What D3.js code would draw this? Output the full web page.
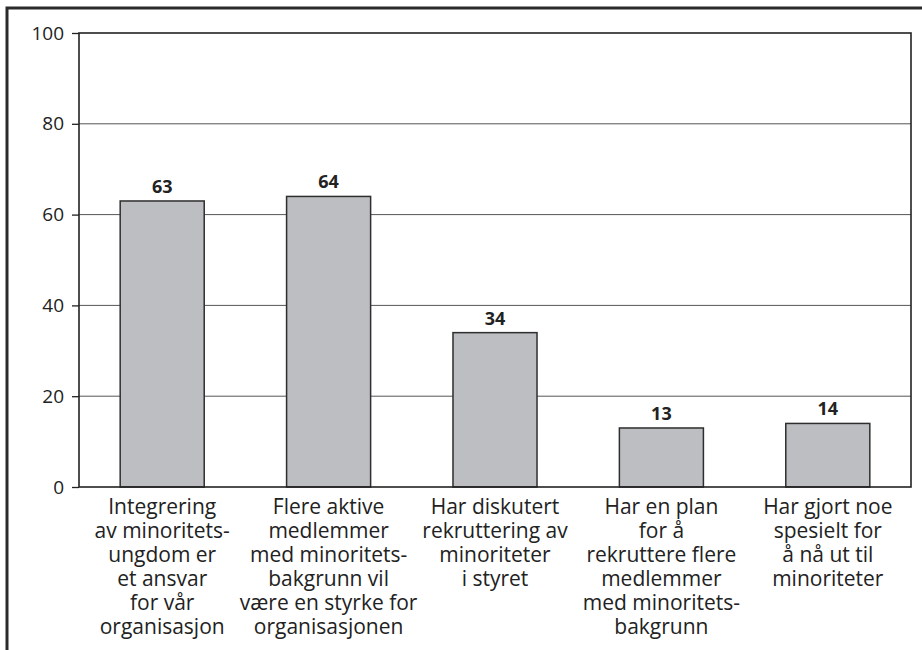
<!DOCTYPE html>
<html>
<head>
<meta charset="utf-8">
<script src="https://cdn.jsdelivr.net/npm/d3@7"></script>
<style>
  body { margin: 0; background: #fff; }
  svg { display: block; font-family: "Open Sans", sans-serif; }
</style>
</head>
<body>
<svg id="chart" width="922" height="650"></svg>
<script>
// data
var categories = [
  ["Integrering", "av minoritets-", "ungdom er", "et ansvar", "for vår", "organisasjon"],
  ["Flere aktive", "medlemmer", "med minoritets-", "bakgrunn vil", "være en styrke for", "organisasjonen"],
  ["Har diskutert", "rekruttering av", "minoriteter", "i styret"],
  ["Har en plan", "for å", "rekruttere flere", "medlemmer", "med minoritets-", "bakgrunn"],
  ["Har gjort noe", "spesielt for", "å nå ut til", "minoriteter"]
];
var values = [63, 64, 34, 13, 14];
var yTicks = [0, 20, 40, 60, 80, 100];

var svg = d3.select("#chart");
var margin = { top: 33, left: 79, right: 11, bottom: 163 },
    width = 922, height = 650;

// outer frame, runs off the right and bottom edges
svg.append("rect")
    .attr("x", 7).attr("y", 8)
    .attr("width", 940).attr("height", 680)
    .attr("fill", "none").attr("stroke", "#2b2b2b").attr("stroke-width", 3);

var x = d3.scaleBand()
    .domain(d3.range(values.length))
    .range([margin.left, width - margin.right])
    .paddingInner(0.495).paddingOuter(0.2475);

var y = d3.scaleLinear()
    .domain([0, 100])
    .range([height - margin.bottom, margin.top]);

// gridlines
svg.append("g").selectAll("line")
    .data(yTicks.filter(function (t) { return t > 0 && t < 100; }))
    .enter().append("line")
    .attr("x1", margin.left).attr("x2", width - margin.right)
    .attr("y1", function (d) { return y(d); }).attr("y2", function (d) { return y(d); })
    .attr("stroke", "#555").attr("stroke-width", 1);

// y axis
var yAxis = d3.axisLeft(y).tickValues(yTicks).tickSize(7).tickPadding(8);
var yG = svg.append("g")
    .attr("transform", "translate(" + margin.left + ",0)")
    .call(yAxis);
yG.select(".domain").remove();
yG.selectAll(".tick line").attr("stroke", "#222").attr("stroke-width", 1.3);
yG.selectAll(".tick text")
    .attr("fill", "#222").attr("font-size", 19)
    .attr("font-family", "Open Sans, sans-serif");

// bars
svg.append("g").selectAll("rect")
    .data(values)
    .enter().append("rect")
    .attr("x", function (d, i) { return x(i); })
    .attr("y", function (d) { return y(d); })
    .attr("width", x.bandwidth())
    .attr("height", function (d) { return y(0) - y(d); })
    .attr("fill", "#bdbec1")
    .attr("stroke", "#2e2e2e").attr("stroke-width", 1.5);

// value labels
svg.append("g").selectAll("text")
    .data(values)
    .enter().append("text")
    .attr("x", function (d, i) { return x(i) + x.bandwidth() / 2; })
    .attr("y", function (d) { return y(d) - 8; })
    .attr("text-anchor", "middle")
    .attr("font-size", 18).attr("font-weight", "bold")
    .attr("fill", "#222")
    .text(function (d) { return d; });

// plot frame
svg.append("rect")
    .attr("x", margin.left).attr("y", margin.top)
    .attr("width", width - margin.left - margin.right)
    .attr("height", height - margin.top - margin.bottom)
    .attr("fill", "none").attr("stroke", "#222").attr("stroke-width", 1.6);

// category labels
var catG = svg.append("g").selectAll("text")
    .data(categories)
    .enter().append("text")
    .attr("text-anchor", "middle")
    .attr("font-size", 21)
    .attr("fill", "#222")
    .attr("transform", function (d, i) {
        return "translate(" + (x(i) + x.bandwidth() / 2) + "," + (y(0) + 27) + ")";
    });
catG.selectAll("tspan")
    .data(function (d) { return d; })
    .enter().append("tspan")
    .attr("x", 0)
    .attr("dy", function (d, i) { return i === 0 ? 0 : 24; })
    .text(function (d) { return d; });
</script>
</body>
</html>
